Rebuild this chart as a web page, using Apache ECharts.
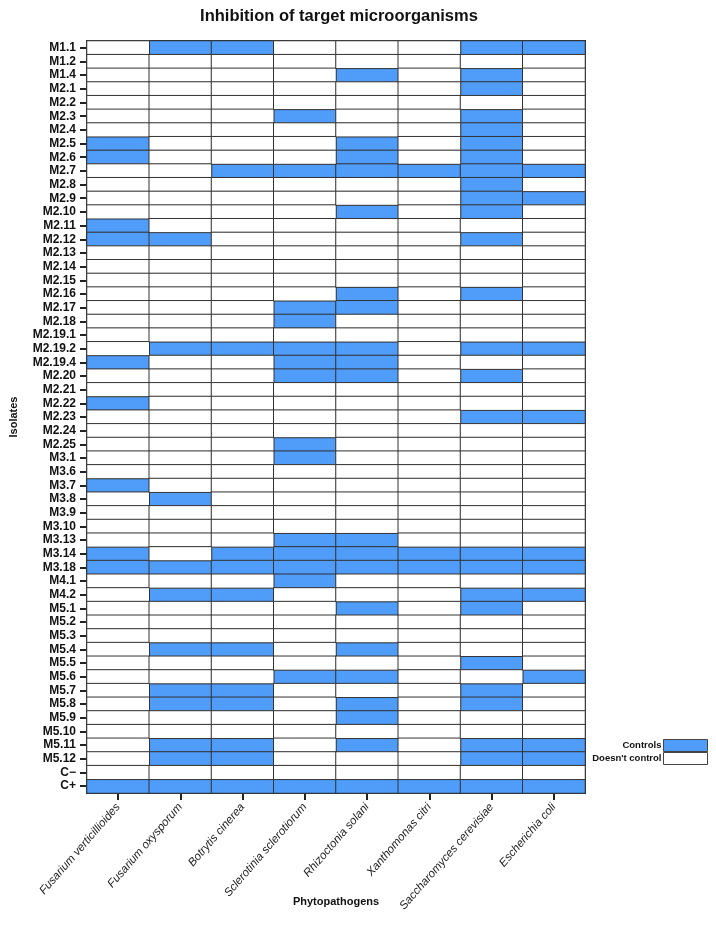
<!DOCTYPE html>
<html>
<head>
<meta charset="utf-8">
<script src="https://cdn.jsdelivr.net/npm/echarts@6/dist/echarts.min.js"></script>
<style>
  html, body { margin: 0; padding: 0; background: #fff; }
  #chart { width: 716px; height: 941px; }
</style>
</head>
<body>
<div id="chart"></div>
<script>
// isolates, top to bottom
const isolates = ['M1.1','M1.2','M1.4','M2.1','M2.2','M2.3','M2.4','M2.5','M2.6','M2.7','M2.8','M2.9','M2.10',
  'M2.11','M2.12','M2.13','M2.14','M2.15','M2.16','M2.17','M2.18','M2.19.1','M2.19.2','M2.19.4','M2.20','M2.21',
  'M2.22','M2.23','M2.24','M2.25','M3.1','M3.6','M3.7','M3.8','M3.9','M3.10','M3.13','M3.14','M3.18','M4.1',
  'M4.2','M5.1','M5.2','M5.3','M5.4','M5.5','M5.6','M5.7','M5.8','M5.9','M5.10','M5.11','M5.12','C−','C+'];

const pathogens = ['Fusarium verticillioides','Fusarium oxysporum','Botrytis cinerea','Sclerotinia sclerotiorum',
  'Rhizoctonia solani','Xanthomonas citri','Saccharomyces cerevisiae','Escherichia coli'];

// isolates that control each pathogen
const fusariumVerticillioides = ['M2.5','M2.6','M2.11','M2.12','M2.19.4','M2.22','M3.7','M3.14','M3.18','C+'];
const fusariumOxysporum = ['M1.1','M2.12','M2.19.2','M3.8','M3.18','M4.2','M5.4','M5.7','M5.8','M5.11','M5.12','C+'];
const botrytisCinerea = ['M1.1','M2.7','M2.19.2','M3.14','M3.18','M4.2','M5.4','M5.7','M5.8','M5.11','M5.12','C+'];
const sclerotiniaSclerotiorum = ['M2.3','M2.7','M2.17','M2.18','M2.19.2','M2.19.4','M2.20','M2.25','M3.1','M3.13',
  'M3.14','M3.18','M4.1','M5.6','C+'];
const rhizoctoniaSolani = ['M1.4','M2.5','M2.6','M2.7','M2.10','M2.16','M2.17','M2.19.2','M2.19.4','M2.20','M3.13',
  'M3.14','M3.18','M5.1','M5.4','M5.6','M5.8','M5.9','M5.11','C+'];
const xanthomonasCitri = ['M2.7','M3.14','M3.18','C+'];
const saccharomycesCerevisiae = ['M1.1','M1.4','M2.1','M2.3','M2.4','M2.5','M2.6','M2.7','M2.8','M2.9','M2.10','M2.12',
  'M2.16','M2.19.2','M2.20','M2.23','M3.14','M3.18','M4.2','M5.1','M5.5','M5.7','M5.8','M5.11','M5.12','C+'];
const escherichiaColi = ['M1.1','M2.7','M2.9','M2.19.2','M2.23','M3.14','M3.18','M4.2','M5.6','M5.11','M5.12','C+'];

const controlled = [fusariumVerticillioides, fusariumOxysporum, botrytisCinerea, sclerotiniaSclerotiorum,
  rhizoctoniaSolani, xanthomonasCitri, saccharomycesCerevisiae, escherichiaColi];

const yesData = [], noData = [];
pathogens.forEach(function (p, xi) {
  isolates.forEach(function (iso, yi) {
    if (controlled[xi].indexOf(iso) >= 0) yesData.push([xi, yi, 1]);
    else noData.push([xi, yi, 0]);
  });
});

const BLUE = '#4f9cf9';
const FONT = '"Liberation Sans", Arial, sans-serif';

const chart = echarts.init(document.getElementById('chart'));
chart.setOption({
  animation: false,
  textStyle: { fontFamily: FONT },
  title: {
    text: 'Inhibition of target microorganisms',
    left: 334, top: 3, textAlign: 'center',
    textStyle: { fontSize: 16.5, fontWeight: 'bold', color: '#111', fontFamily: FONT }
  },
  grid: {
    left: 85, right: 131, top: 41, bottom: 148,
    show: true, borderColor: '#222', borderWidth: 2, backgroundColor: '#fff'
  },
  legend: {
    orient: 'vertical', right: 8, top: 739, padding: 0,
    align: 'right', icon: 'rect',
    itemWidth: 44, itemHeight: 12, itemGap: 0,
    itemStyle: { borderColor: '#444', borderWidth: 1 },
    textStyle: { fontSize: 9.5, fontWeight: 'bold', color: '#111', fontFamily: FONT, padding: [0, -3, 0, 0] },
    data: ['Controls', "Doesn't control"]
  },
  xAxis: {
    type: 'category', data: pathogens,
    name: 'Phytopathogens', nameLocation: 'middle', nameGap: 103, nameMoveOverlap: false,
    nameTextStyle: { fontSize: 11, fontWeight: 'bold', color: '#111' },
    axisLine: { show: true, lineStyle: { color: '#222', width: 2 } },
    axisTick: { show: true, alignWithLabel: true, length: 7, lineStyle: { color: '#222', width: 2 } },
    axisLabel: { rotate: 49, fontSize: 11.5, fontStyle: 'italic', color: '#222', interval: 0, margin: 12 },
    splitLine: { show: false }
  },
  yAxis: {
    type: 'category', data: isolates, inverse: true,
    name: 'Isolates', nameLocation: 'middle', nameGap: 68, nameRotate: 90, nameMoveOverlap: false,
    nameTextStyle: { fontSize: 11, fontWeight: 'bold', color: '#111' },
    axisLine: { show: true, lineStyle: { color: '#222', width: 2 } },
    axisTick: { show: true, alignWithLabel: true, length: 7, lineStyle: { color: '#222', width: 2 } },
    axisLabel: { fontSize: 12, fontWeight: 'bold', color: '#111', interval: 0, margin: 11 },
    splitLine: { show: false }
  },
  series: [
    {
      name: 'Controls', type: 'heatmap', data: yesData,
      itemStyle: { color: BLUE, borderColor: '#333', borderWidth: 1 },
      emphasis: { disabled: true }
    },
    {
      name: "Doesn't control", type: 'heatmap', data: noData,
      itemStyle: { color: '#ffffff', borderColor: '#333', borderWidth: 1 },
      emphasis: { disabled: true }
    }
  ]
});
</script>
</body>
</html>
